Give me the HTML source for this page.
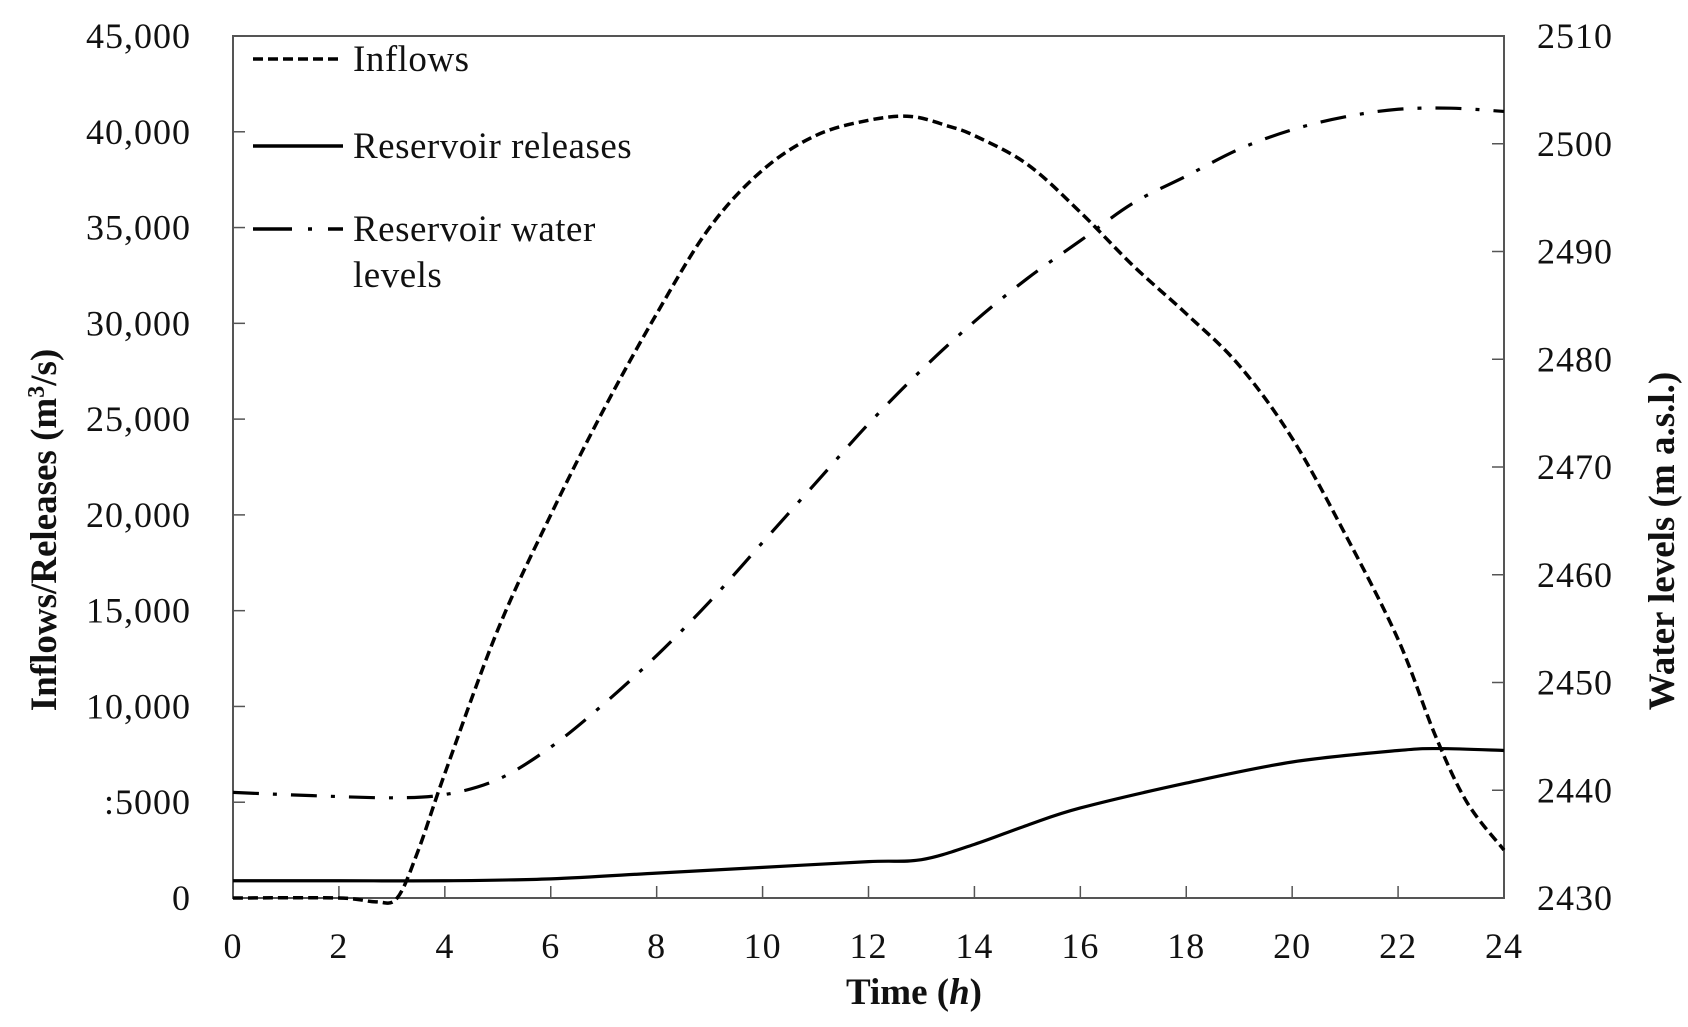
<!DOCTYPE html>
<html><head><meta charset="utf-8"><style>
html,body{margin:0;padding:0;background:#fff}
svg{display:block}
text{font-family:"Liberation Serif",serif;fill:#111}
</style></head><body>
<svg id="s" width="1688" height="1027" viewBox="0 0 1688 1027" xmlns="http://www.w3.org/2000/svg">
<rect x="233" y="36" width="1271" height="862" fill="none" stroke="#555" stroke-width="2"/>
<g id="ticks" stroke="#555" stroke-width="1.5"></g>
<g id="labels" font-size="36" letter-spacing="1"></g>
<g font-size="37" letter-spacing="0.5">
<line x1="253" y1="59" x2="343" y2="59" stroke="#000" stroke-width="3.5" stroke-dasharray="10,5"/>
<text x="353" y="71">Inflows</text>
<line x1="253" y1="146" x2="343" y2="146" stroke="#000" stroke-width="3.5"/>
<text x="353" y="158">Reservoir releases</text>
<path d="M253 229H292M308 229H312M328 229H343" stroke="#000" stroke-width="3.5"/>
<text x="353" y="241">Reservoir water</text>
<text x="353" y="287">levels</text>
</g>
<text x="914" y="1004" font-size="37" font-weight="bold" text-anchor="middle">Time (<tspan font-style="italic">h</tspan>)</text>
<text transform="translate(56,530) rotate(-90)" font-size="37" font-weight="bold" text-anchor="middle">Inflows/Releases (m<tspan font-size="24" dy="-12">3</tspan><tspan dy="12">/s)</tspan></text>
<text transform="translate(1674,541) rotate(-90)" font-size="37" font-weight="bold" text-anchor="middle">Water levels (m a.s.l.)</text>
<path id="inf" fill="none" stroke="#000" stroke-width="3.5" stroke-dasharray="10,5"/>
<path id="rel" fill="none" stroke="#000" stroke-width="3.2"/>
<path id="wl" fill="none" stroke="#000" stroke-width="3.2" stroke-dasharray="26,14,4,14"/>
</svg>
<script>
var X=function(h){return 233+h*1271/24},Y=function(q){return 898-q*862/45000},W=function(m){return 898-(m-2430)*862/80};
var ns="http://www.w3.org/2000/svg",tk=document.getElementById('ticks'),lb=document.getElementById('labels');
function el(p,t,a,txt){var e=document.createElementNS(ns,t);for(var k in a)e.setAttribute(k,a[k]);if(txt!=null)e.textContent=txt;p.appendChild(e);}
var ll=["0",":5000","10,000","15,000","20,000","25,000","30,000","35,000","40,000","45,000"];
for(var i=0;i<10;i++){var y=Y(i*5000);el(tk,'line',{x1:233,x2:245,y1:y,y2:y});el(lb,'text',{x:191,y:y+12,'text-anchor':'end'},ll[i]);}
for(var i=0;i<9;i++){var m=2430+i*10,y=W(m);el(tk,'line',{x1:1492,x2:1504,y1:y,y2:y});el(lb,'text',{x:1537,y:y+12},m);}
for(var h=0;h<=24;h+=2){var x=X(h);el(tk,'line',{x1:x,x2:x,y1:886,y2:898});el(lb,'text',{x:x,y:958,'text-anchor':'middle'},h);}
function path(pts,fy){var p=pts.map(function(a){return [X(a[0]),fy(a[1])]});var d="M"+p[0][0]+" "+p[0][1];
for(var i=0;i<p.length-1;i++){var p0=p[i-1]||p[i],p1=p[i],p2=p[i+1],p3=p[i+2]||p2;
d+=" C"+(p1[0]+(p2[0]-p0[0])/6)+" "+(p1[1]+(p2[1]-p0[1])/6)+" "+(p2[0]-(p3[0]-p1[0])/6)+" "+(p2[1]-(p3[1]-p1[1])/6)+" "+p2[0]+" "+p2[1];}return d;}
document.getElementById('inf').setAttribute('d',path([[0,0],[2,0],[2.7,-200],[3.1,0],[3.5,2500],[4,6500],[5,14000],[6,20000],[7,25500],[8,30500],[9,35000],[10,38000],[11,39800],[12,40600],[12.8,40800],[13.5,40300],[14,39800],[15,38300],[16,35800],[17,33000],[18,30500],[19,27800],[20,24000],[21,19000],[22,13500],[22.7,8500],[23.3,5000],[24,2500]],Y));
document.getElementById('rel').setAttribute('d',path([[0,900],[2,900],[4,900],[6,1000],[8,1300],[10,1600],[12,1900],[13,2000],[14,2800],[15,3800],[16,4700],[18,6000],[20,7100],[22,7700],[22.8,7800],[24,7700]],Y));
document.getElementById('wl').setAttribute('d',path([[0,2439.8],[1.5,2439.5],[3,2439.3],[4,2439.6],[5,2441],[6,2444],[7,2448],[8,2452.5],[9,2457.5],[10,2463],[11,2468.5],[12,2474],[13,2479],[14,2483.5],[15,2487.5],[16,2491],[17,2494.5],[18,2497],[19,2499.5],[20,2501.3],[21,2502.5],[22,2503.2],[23,2503.3],[24,2503]],W));
</script>
</body></html>
